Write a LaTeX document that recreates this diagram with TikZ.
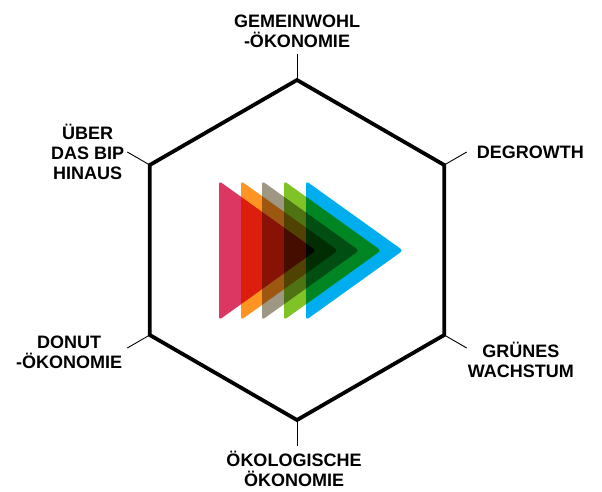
\documentclass[tikz,border=0pt]{standalone}
\usepackage{fontspec}
\setmainfont{Liberation Sans}
\usetikzlibrary{positioning}
\definecolor{tripink}{HTML}{DC3762}
\definecolor{triorange}{HTML}{FF9422}
\definecolor{trigray}{HTML}{9E9784}
\definecolor{trigreen}{HTML}{80C326}
\definecolor{triblue}{HTML}{00AEEF}
\tikzset{
  frame/.style={line width=3.8pt, line join=miter},
  spoke/.style={line width=0.9pt},
  school/.style={font=\bfseries\fontsize{18}{20}\selectfont, align=center, inner sep=0pt},
  arrowtri/.style={rounded corners=3pt}
}
\begin{document}
\begin{tikzpicture}[x=1pt, y=-1pt]
    \useasboundingbox (0,0) rectangle (602,491);
    % hexagon corners
    \coordinate (h1) at (297,80);
    \coordinate (h2) at (444.2,165);
    \coordinate (h3) at (444.2,335);
    \coordinate (h4) at (297,420);
    \coordinate (h5) at (149.8,335);
    \coordinate (h6) at (149.8,165);
    % spoke ends
    \coordinate (t1) at (297,54);
    \coordinate (t2) at (466.7,152);
    \coordinate (t3) at (466.7,348);
    \coordinate (t4) at (297,446);
    \coordinate (t5) at (127.3,348);
    \coordinate (t6) at (127.3,152);
    \draw[frame] (h1) -- (h2) -- (h3) -- (h4) -- (h5) -- (h6) -- cycle;
    \draw[spoke] (h1) -- (t1);
    \draw[spoke] (h2) -- (t2);
    \draw[spoke] (h3) -- (t3);
    \draw[spoke] (h4) -- (t4);
    \draw[spoke] (h5) -- (t5);
    \draw[spoke] (h6) -- (t6);
    % schools
    \node[school, above=6pt of t1] (gwo) {GEMEINWOHL\\-ÖKONOMIE};
    \node[school, right=10pt of t2] (deg) {DEGROWTH};
    \node[school, right=1pt of t3, yshift=-12pt] (gw) {GRÜNES\\WACHSTUM};
    \node[school, below=5pt of t4, xshift=-3pt] (oek) {ÖKOLOGISCHE\\ÖKONOMIE};
    \node[school, left=5pt of t5, yshift=-4pt] (don) {DONUT\\-ÖKONOMIE};
    \node[school, left=3pt of t6] (bip) {ÜBER\\DAS BIP\\HINAUS};
    % triangles
    \begin{scope}[blend group=multiply]
      \fill[arrowtri, tripink] (219,181) -- (316,250.5) -- (219,320) -- cycle;
      \fill[arrowtri, triorange] (241,181) -- (338,250.5) -- (241,320) -- cycle;
      \fill[arrowtri, trigray] (262,181) -- (359,250.5) -- (262,320) -- cycle;
      \fill[arrowtri, trigreen] (284,181) -- (381,250.5) -- (284,320) -- cycle;
      \fill[arrowtri, triblue] (306,181) -- (403,250.5) -- (306,320) -- cycle;
    \end{scope}
\end{tikzpicture}
\end{document}
